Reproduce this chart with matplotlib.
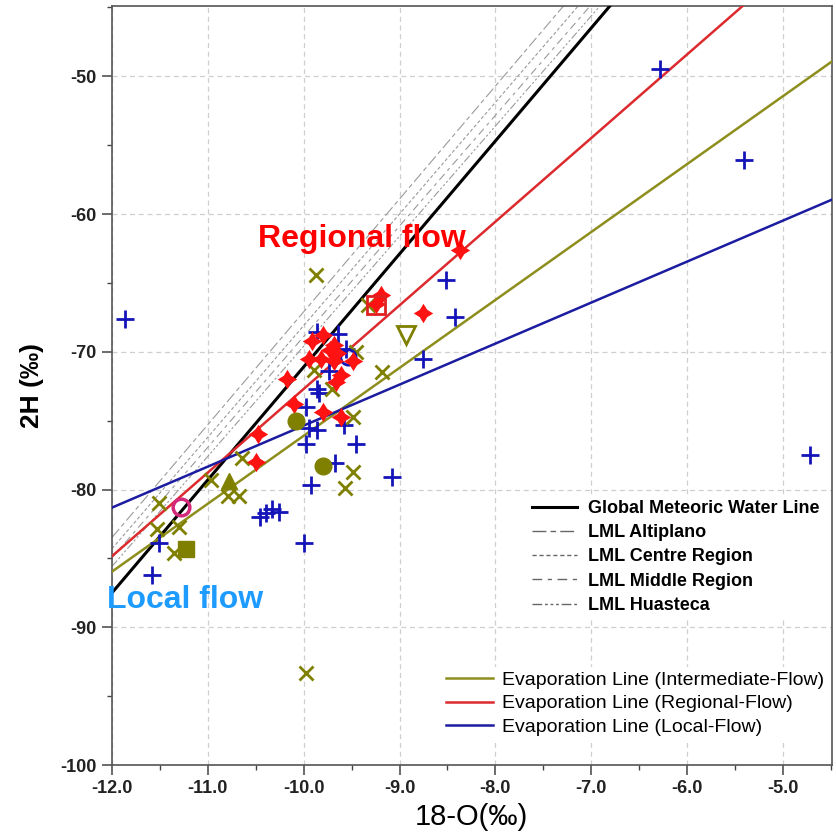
import matplotlib
matplotlib.use("Agg")
import matplotlib.pyplot as plt
from matplotlib.ticker import MultipleLocator, FormatStrFormatter
import numpy as np

# ── Reference lines: 2H = slope * 18O + intercept ───────────────────────────
GMWL_SLOPE, GMWL_INTERCEPT = 8.2, 10.9

LML_NAMES = ["LML Altiplano", "LML Centre Region", "LML Middle Region", "LML Huasteca"]
LML_SLOPES = [8.19, 8.10, 8.03, 7.99]
LML_INTERCEPTS = [14.8, 12.9, 11.4, 10.3]

EVAP_NAMES = [
    "Evaporation Line (Intermediate-Flow)",
    "Evaporation Line (Regional-Flow)",
    "Evaporation Line (Local-Flow)",
]
EVAP_SLOPES = [4.93, 6.07, 2.976]
EVAP_INTERCEPTS = [-26.8, -12.0, -45.6]

# ── Samples ─────────────────────────────────────────────────────────────────
local_o18 = [-11.86, -6.28, -5.41, -4.72, -8.52, -8.42, -8.76, -9.86, -9.64,
             -9.56, -9.74, -9.86, -9.84, -9.98, -9.94, -9.86, -9.98, -9.58,
             -9.45, -9.67, -9.92, -9.08, -10.00, -10.46, -10.39, -10.33,
             -10.26, -11.51, -11.58]
local_h2 = [-67.6, -49.5, -56.1, -77.5, -64.8, -67.5, -70.5, -68.6, -68.7,
            -69.8, -71.4, -72.7, -73.0, -74.0, -75.5, -75.7, -76.7, -75.3,
            -76.7, -78.1, -79.7, -79.1, -83.9, -82.0, -81.7, -81.4,
            -81.6, -83.9, -86.2]

inter_o18 = [-9.87, -9.98, -9.49, -9.57, -9.49, -9.18, -9.70, -9.45, -9.89,
             -10.64, -10.97, -10.79, -10.67, -11.51, -11.53, -11.30, -11.35,
             -9.33]
inter_h2 = [-64.4, -93.3, -78.7, -79.9, -74.7, -71.5, -72.7, -70.0, -71.3,
            -77.7, -79.3, -80.5, -80.5, -81.0, -82.9, -82.7, -84.6,
            -66.6]

regional_o18 = [-8.37, -9.19, -9.25, -8.76, -9.91, -9.80, -9.68, -9.65, -9.73,
                -9.94, -9.82, -9.68, -9.49, -9.61, -9.66, -10.17, -10.10,
                -9.80, -9.61, -10.48, -10.50]
regional_h2 = [-62.6, -65.9, -66.5, -67.2, -69.2, -68.8, -69.5, -70.1, -69.9,
               -70.5, -70.5, -70.7, -70.7, -71.7, -72.2, -72.0, -73.8,
               -74.4, -74.7, -76.0, -78.0]

# single reference samples (18O, 2H)
olive_circles = ([-9.80, -10.08], [-78.3, -75.0])
olive_triangle = ([-10.78], [-79.4])
olive_square = ([-11.23], [-84.3])
olive_open_tri = ([-8.93], [-68.8])
red_open_square = ([-9.25], [-66.6])
magenta_ring = ([-11.28], [-81.3])
blue_ring = ([-9.54], [-70.4])

XLIM = (-12.0, -4.49)
YLIM = (-100.0, -44.9)

BLUE = "#1414b8"
OLIVE = "#808000"
RED = "#ff1212"
STAR = [(0, 1), (0.38, 0.38), (1, 0), (0.38, -0.38), (0, -1),
        (-0.38, -0.38), (-1, 0), (-0.38, 0.38), (0, 1)]

plt.rcParams.update({
    "font.family": ["Liberation Sans", "DejaVu Sans"],
    "axes.unicode_minus": False,
})

fig = plt.figure(figsize=(8.37, 8.36), dpi=100)
ax = fig.add_axes([0.1338, 0.0849, 0.8599, 0.9079])

xs = np.array(XLIM)

# meteoric water lines
gmwl, = ax.plot(xs, GMWL_SLOPE * xs + GMWL_INTERCEPT, color="black", lw=2.2,
                zorder=3, label="Global Meteoric Water Line")
lml_dashes = [(10, 3, 4, 3), (3, 2), (7, 4, 3, 4), (7, 2, 2, 2, 2, 2, 2, 2)]
lml_handles = []
for name, m, b, dash in zip(LML_NAMES, LML_SLOPES, LML_INTERCEPTS, lml_dashes):
    ax.plot(xs, m * xs + b, color="#9a9a9a", lw=0.8, linestyle=(0, dash), zorder=2)
    lml_handles.append(plt.Line2D([], [], color="#666666", lw=1.0,
                                  linestyle=(0, dash), label=name))

# evaporation lines
evap_colors = ["#8e8e1e", "#dc2a2e", "#1c1ca0"]
evap_handles = []
for name, m, b, c in zip(EVAP_NAMES, EVAP_SLOPES, EVAP_INTERCEPTS, evap_colors):
    h, = ax.plot(xs, m * xs + b, color=c, lw=1.8, zorder=3, label=name)
    evap_handles.append(h)

# samples
ax.plot(local_o18, local_h2, ls="none", marker="+", ms=13, mew=2.0,
        color=BLUE, zorder=4)
ax.plot(inter_o18, inter_h2, ls="none", marker="x", ms=10, mew=2.0,
        color=OLIVE, zorder=4)
ax.plot(*blue_ring, ls="none", marker="o", ms=11, mew=2.0, mfc="none",
        mec=BLUE, zorder=4)
ax.plot(regional_o18, regional_h2, ls="none", marker=STAR, ms=14,
        color=RED, mew=0, zorder=5)
ax.plot(*olive_circles, ls="none", marker="o", ms=12, color=OLIVE, zorder=5)
ax.plot(*olive_triangle, ls="none", marker="^", ms=12, color=OLIVE, zorder=5)
ax.plot(*olive_square, ls="none", marker="s", ms=11, color=OLIVE, zorder=5)
ax.plot(*olive_open_tri, ls="none", marker="v", ms=13, mew=2.0, mfc="none",
        mec=OLIVE, zorder=5)
ax.plot(*red_open_square, ls="none", marker="s", ms=13, mew=2.0, mfc="none",
        mec="#e02020", zorder=5)
ax.plot(*magenta_ring, ls="none", marker="o", ms=12, mew=2.5, mfc="none",
        mec="#d42a7c", zorder=5)

ax.text(-10.477, -62.39, "Regional flow", color="#ff0000", fontsize=23,
        fontweight="bold", ha="left", va="baseline", zorder=6)
ax.text(-12.055, -88.6, "Local flow", color="#1e9bff", fontsize=23,
        fontweight="bold", ha="left", va="baseline", zorder=6)

# axes, ticks and grid
ax.set_xlim(*XLIM)
ax.set_ylim(*YLIM)
ax.xaxis.set_major_locator(MultipleLocator(1.0))
ax.xaxis.set_minor_locator(MultipleLocator(0.5))
ax.xaxis.set_major_formatter(FormatStrFormatter("%.1f"))
ax.yaxis.set_major_locator(MultipleLocator(10))
ax.yaxis.set_minor_locator(MultipleLocator(5))
ax.tick_params(which="major", direction="out", length=7, width=1.1,
               color="#444444", labelsize=13, pad=4)
ax.tick_params(which="minor", direction="out", length=3.5, width=1.0,
               color="#444444")
for lbl in ax.get_xticklabels() + ax.get_yticklabels():
    lbl.set_fontweight("bold")
    lbl.set_color("#222222")
for sp in ax.spines.values():
    sp.set_color("#555555")
    sp.set_linewidth(1.2)
ax.grid(True, which="major", color="#cfcfcf", linestyle=(0, (4, 3)), lw=0.9)
ax.set_axisbelow(True)

ax.set_xlabel("18-O(‰)", fontsize=21)
ax.xaxis.set_label_coords(0.5, -0.05)
ax.xaxis.label.set_va("top")
ax.set_ylabel("2H (‰)", fontsize=19, fontweight="bold")
ax.yaxis.set_label_coords(-0.094, 0.5)

leg1 = ax.legend(handles=[gmwl] + lml_handles, loc="upper left",
                 bbox_to_anchor=(0.578, 0.354), frameon=True, fancybox=False,
                 edgecolor="none", facecolor="white", framealpha=1.0,
                 prop={"weight": "bold", "size": 13}, handlelength=2.5,
                 handletextpad=0.6, labelspacing=0.4, borderpad=0.2,
                 borderaxespad=0)
ax.add_artist(leg1)
ax.legend(handles=evap_handles, loc="upper left", bbox_to_anchor=(0.4585, 0.129),
          frameon=True, fancybox=False, edgecolor="none", facecolor="white",
          framealpha=1.0, prop={"size": 14}, handlelength=2.4,
          handletextpad=0.5, labelspacing=0.32, borderpad=0.2, borderaxespad=0)

fig.savefig("out.png", dpi=100)
